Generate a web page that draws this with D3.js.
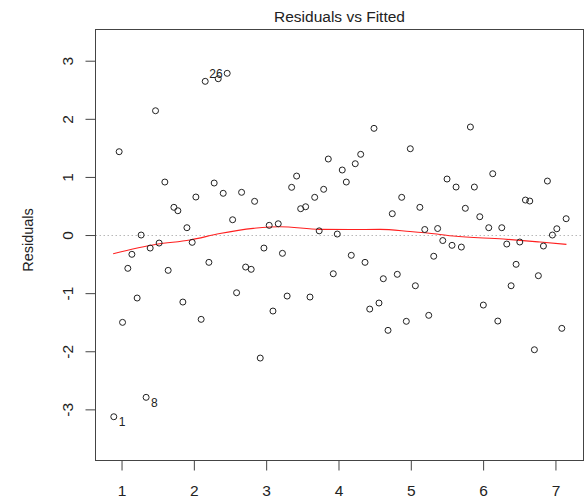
<!DOCTYPE html>
<html>
<head>
<meta charset="utf-8">
<script src="https://cdn.jsdelivr.net/npm/d3@7"></script>
<style>
  body { margin: 0; background: #fff; }
  svg { display: block; }
  text { font-family: "Liberation Sans", Arial, sans-serif; fill: #222; }
</style>
</head>
<body>
<svg id="chart" width="584" height="500"></svg>
<script>
// Fitted values and their residuals (one entry per observation)
const fitted = [
  0.967, 1.470, 2.157, 2.337, 2.461, 1.599, 2.281, 1.724, 1.779, 2.028,
  2.406, 2.660, 2.840, 2.536, 1.904, 3.042, 3.167, 3.352, 1.271, 1.143,
  1.396, 1.520, 1.977, 2.969, 3.225, 1.087, 1.645, 2.208, 2.716, 2.793,
  1.216, 1.848, 2.591, 3.290, 1.014, 2.101, 3.094, 2.918, 1.340, 0.893,
  4.491, 4.993, 3.859, 4.307, 4.232, 4.052, 3.421, 4.108, 3.795, 3.671,
  3.477, 3.546, 4.874, 4.744, 5.125, 3.733, 3.983, 5.193, 5.371, 4.177,
  4.367, 5.317, 3.928, 4.620, 4.813, 5.063, 3.606, 4.560, 4.432, 5.248,
  4.938, 4.685, 5.824, 6.133, 5.501, 5.626, 5.879, 6.889, 6.585, 6.645,
  5.754, 5.954, 7.148, 6.078, 6.258, 7.019, 6.958, 5.442, 5.570, 5.699,
  6.327, 6.507, 6.834, 6.456, 6.764, 6.387, 6.003, 6.203, 7.088, 6.709
];
const residuals = [
  1.434, 2.139, 2.645, 2.690, 2.783, 0.912, 0.895, 0.477, 0.418, 0.654,
  0.718, 0.735, 0.580, 0.263, 0.126, 0.167, 0.194, 0.821, 0.000, -0.332,
  -0.224, -0.138, -0.126, -0.224, -0.315, -0.573, -0.608, -0.470, -0.551, -0.590,
  -1.084, -1.153, -0.993, -1.050, -1.503, -1.451, -1.308, -2.117, -2.793, -3.127,
  1.836, 1.485, 1.308, 1.389, 1.227, 1.119, 1.015, 0.912, 0.787, 0.649,
  0.453, 0.487, 0.649, 0.367, 0.477, 0.072, 0.017, 0.095, 0.112, -0.349,
  -0.470, -0.365, -0.666, -0.752, -0.676, -0.873, -1.067, -1.170, -1.274, -1.382,
  -1.485, -1.640, 1.859, 1.055, 0.964, 0.826, 0.826, 0.929, 0.602, 0.585,
  0.460, 0.315, 0.281, 0.126, 0.126, 0.108, 0.000, -0.095, -0.177, -0.207,
  -0.155, -0.120, -0.189, -0.504, -0.700, -0.873, -1.205, -1.480, -1.606, -1.974
];

// Smoothed trend of residuals against fitted values
const smoothFitted = [0.884, 1.484, 1.945, 2.360, 2.821, 3.052, 3.190, 3.744, 4.159, 4.574, 4.989, 5.359, 5.588, 6.280, 6.788, 7.152];
const smoothResid  = [-0.322, -0.160, -0.086, 0.026, 0.115, 0.138, 0.143, 0.098, 0.095, 0.098, 0.060, 0.017, -0.017, -0.069, -0.120, -0.160];

// Observations flagged with their id
const flaggedIndex = [39, 38, 4];
const flaggedId = ["1", "8", "26"];

const xTicks = [1, 2, 3, 4, 5, 6, 7];
const yTicks = [-3, -2, -1, 0, 1, 2, 3];

const titleText = "Residuals vs Fitted";
const yLabelText = "Residuals";

// ---- layout ----
const box = { left: 95.5, right: 583.5, top: 29.5, bottom: 460.5 };

const x = d3.scaleLinear().domain([0.640, 7.388]).range([box.left, box.right]);
const y = d3.scaleLinear().domain([-3.880, 3.537]).range([box.bottom, box.top]);

// plain ASCII hyphen for negative tick labels
const plainNumber = d => String(d);

const svg = d3.select("#chart");

// zero reference line (dotted grey)
svg.append("line")
  .attr("x1", box.left).attr("x2", box.right)
  .attr("y1", Math.round(y(0)) + 0.5).attr("y2", Math.round(y(0)) + 0.5)
  .attr("stroke", "#b8b8b8").attr("stroke-width", 1)
  .attr("stroke-dasharray", "1.5,2.5");

// smoothed trend
const trend = d3.line()
  .x(d => x(d[0])).y(d => y(d[1]))
  .curve(d3.curveMonotoneX);
svg.append("path")
  .datum(smoothFitted.map((f, i) => [f, smoothResid[i]]))
  .attr("d", trend)
  .attr("fill", "none")
  .attr("stroke", "#ff2020")
  .attr("stroke-width", 1.1);

// points
svg.append("g")
  .selectAll("circle")
  .data(fitted.map((f, i) => [f, residuals[i]]))
  .join("circle")
  .attr("cx", d => x(d[0]))
  .attr("cy", d => y(d[1]))
  .attr("r", 3)
  .attr("fill", "none")
  .attr("stroke", "#222")
  .attr("stroke-width", 1);

// id labels next to flagged points
const labelPlace = { "1": ["start", 5, 9.3], "8": ["start", 5, 9.3], "26": ["end", -4.5, 4.4] };
svg.append("g")
  .selectAll("text")
  .data(flaggedIndex.map((idx, i) => ({ f: fitted[idx], r: residuals[idx], id: flaggedId[i] })))
  .join("text")
  .attr("x", d => x(d.f) + labelPlace[d.id][1])
  .attr("y", d => y(d.r) + labelPlace[d.id][2])
  .attr("text-anchor", d => labelPlace[d.id][0])
  .style("font-size", "12px")
  .text(d => d.id);

// plot frame
svg.append("rect")
  .attr("x", box.left).attr("y", box.top)
  .attr("width", box.right - box.left).attr("height", box.bottom - box.top)
  .attr("fill", "none").attr("stroke", "#444").attr("stroke-width", 1);

// x axis
const xAxis = svg.append("g")
  .attr("transform", `translate(0,${box.bottom})`)
  .call(d3.axisBottom(x).tickValues(xTicks).tickSize(10).tickSizeOuter(0).tickFormat(plainNumber));
xAxis.select(".domain").remove();
xAxis.selectAll(".tick line").attr("stroke", "#444");
xAxis.selectAll(".tick text")
  .attr("y", 35.5).attr("dy", null)
  .style("font-size", "15.5px")
  .style("fill", "#222");

// y axis with rotated labels
const yAxis = svg.append("g")
  .attr("transform", `translate(${box.left},0)`)
  .call(d3.axisLeft(y).tickValues(yTicks).tickSize(10).tickSizeOuter(0).tickFormat(plainNumber));
yAxis.select(".domain").remove();
yAxis.selectAll(".tick line").attr("stroke", "#444");
yAxis.selectAll(".tick text")
  .attr("x", null).attr("dy", null)
  .attr("text-anchor", "middle")
  .attr("transform", "translate(-22.8,0) rotate(-90)")
  .style("font-size", "15.5px")
  .style("fill", "#222");

// title
svg.append("text")
  .attr("x", (box.left + box.right) / 2)
  .attr("y", 21.5)
  .attr("text-anchor", "middle")
  .style("font-size", "15.5px")
  .text(titleText);

// y label
svg.append("text")
  .attr("transform", `translate(33.3,${(box.top + box.bottom) / 2 - 5}) rotate(-90)`)
  .attr("text-anchor", "middle")
  .style("font-size", "14.5px")
  .text(yLabelText);
</script>
</body>
</html>
